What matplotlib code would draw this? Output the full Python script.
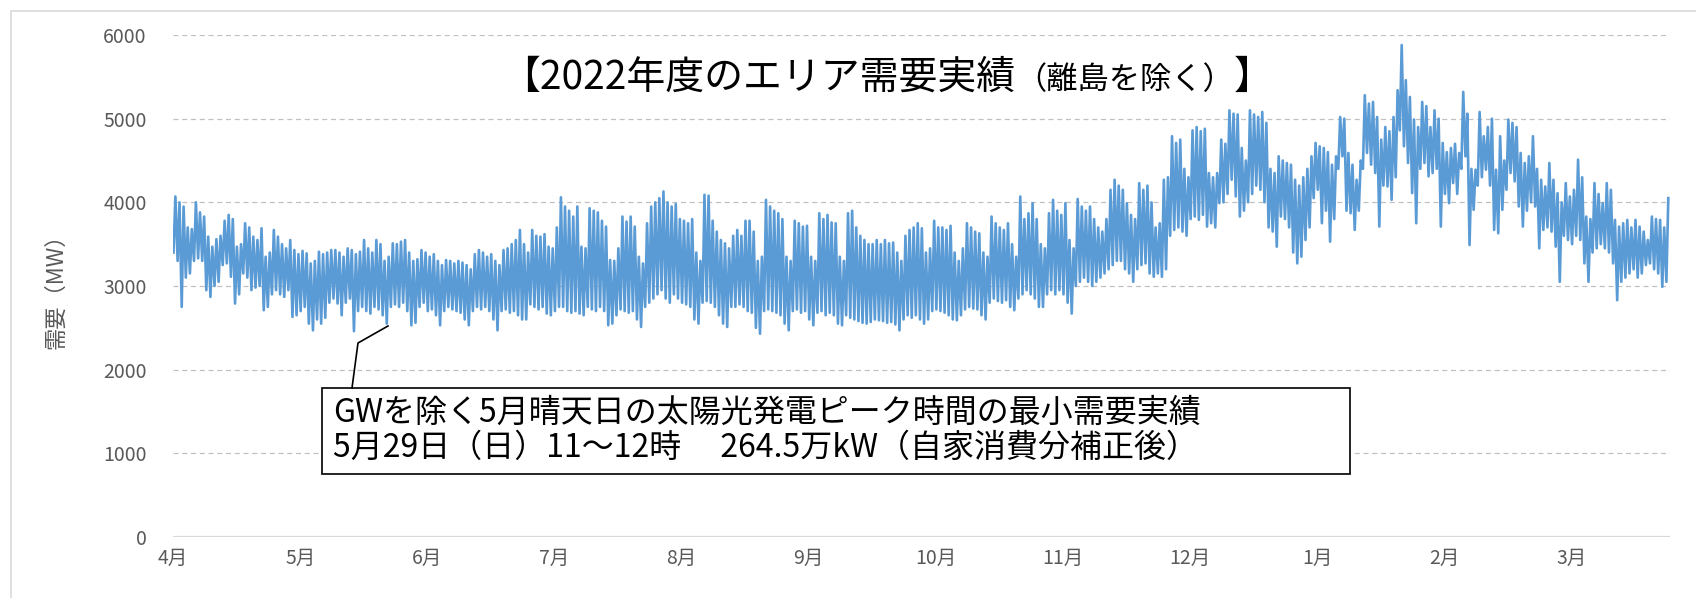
import numpy as np
import matplotlib
matplotlib.use("Agg")
import matplotlib.pyplot as plt
from matplotlib.lines import Line2D
from matplotlib.patches import Rectangle

# ---------------- data ----------------
months = ["4月", "5月", "6月", "7月", "8月", "9月", "10月", "11月", "12月", "1月", "2月", "3月"]
yticks = [0, 1000, 2000, 3000, 4000, 5000, 6000]

# daily minimum / maximum demand (MW), April 1 2022 .. March 31 2023
daily_min = [
    3400, 3300, 2750, 3100, 3150, 3300, 3330, 3300, 2950, 2870,
    3000, 3050, 3250, 3270, 3110, 2790, 2900, 3150, 3100, 2950,
    2980, 3000, 2710, 2750, 2900, 2950, 2900, 2870, 2950, 2630,
    2650, 2700, 2750, 2550, 2470, 2600, 2550, 2620, 2800, 2850,
    2790, 2650, 2800, 2850, 2460, 2700, 2750, 2700, 2670, 2750,
    2720, 2650, 2550, 2750, 2780, 2750, 2800, 2700, 2530, 2560,
    2750, 2800, 2700, 2720, 2650, 2530, 2700, 2750, 2720, 2700,
    2680, 2600, 2530, 2700, 2750, 2720, 2750, 2700, 2600, 2470,
    2700, 2720, 2680, 2700, 2650, 2600, 2600, 2780, 2750, 2720,
    2750, 2670, 2650, 2700, 2750, 2750, 2700, 2680, 2700, 2670,
    2650, 2750, 2720, 2700, 2750, 2700, 2530, 2550, 2650, 2720,
    2700, 2680, 2700, 2600, 2510, 2750, 2800, 2850, 2900, 2950,
    2850, 2800, 2900, 2850, 2800, 2780, 2750, 2600, 2550, 2800,
    2820, 2800, 2750, 2650, 2550, 2510, 2750, 2750, 2780, 2750,
    2700, 2680, 2500, 2430, 2700, 2720, 2700, 2680, 2650, 2550,
    2470, 2700, 2720, 2680, 2700, 2600, 2530, 2680, 2700, 2650,
    2680, 2650, 2550, 2530, 2650, 2620, 2600, 2580, 2560, 2550,
    2570, 2600, 2590, 2580, 2560, 2570, 2540, 2470, 2600, 2650,
    2620, 2650, 2600, 2550, 2600, 2700, 2720, 2700, 2680, 2650,
    2600, 2590, 2650, 2720, 2750, 2730, 2720, 2650, 2600, 2800,
    2850, 2820, 2800, 2830, 2750, 2710, 2850, 2900, 2950, 2900,
    2850, 2750, 2750, 2900, 2950, 2900, 2950, 2900, 2800, 2670,
    3000, 3050, 3100, 3050, 3000, 3050, 3100, 3150, 3200, 3250,
    3300, 3300, 3200, 3150, 3050, 3200, 3250, 3270, 3150, 3110,
    3150, 3110, 3200, 3600, 3670, 3700, 3650, 3600, 3800, 3830,
    3790, 3850, 3710, 3750, 3700, 3990, 4000, 4100, 4270, 4070,
    3830, 3900, 4000, 4100, 4200, 4150, 4000, 3700, 3650, 3470,
    3830, 3800, 3700, 3400, 3270, 3350, 3550, 3700, 4050, 4150,
    3750, 3900, 3530, 3800, 4400, 4550, 3900, 3870, 3670, 3900,
    4400, 4590, 4450, 4350, 3710, 4200, 4190, 4030, 4300, 4860,
    4670, 4470, 4110, 3750, 4400, 4470, 4310, 4350, 4400, 3710,
    4100, 3990, 4230, 4100, 4400, 4550, 3490, 3910, 4200, 4300,
    4390, 4200, 3670, 3630, 3910, 4150, 4350, 4250, 3950, 3710,
    3900, 4000, 3950, 3450, 3670, 3700, 3650, 3470, 3050, 3600,
    3550, 3500, 3600, 3550, 3270, 3050, 3400, 3450, 3500, 3450,
    3400, 3270, 2830, 3050, 3100, 3150, 3200, 3100, 3150, 3250,
    3270, 3200, 3150, 2990, 3050,
]
daily_max = [
    4070, 4000, 3950, 3700, 3680, 4000, 3880, 3830, 3590, 3470,
    3560, 3600, 3780, 3850, 3800, 3470, 3500, 3750, 3700, 3590,
    3550, 3690, 3350, 3400, 3670, 3590, 3500, 3450, 3550, 3430,
    3380, 3420, 3390, 3270, 3300, 3410, 3380, 3400, 3430, 3430,
    3400, 3350, 3450, 3430, 3380, 3410, 3550, 3450, 3400, 3550,
    3500, 3300, 3350, 3510, 3500, 3530, 3550, 3400, 3300, 3320,
    3430, 3400, 3350, 3380, 3300, 3250, 3310, 3300, 3270, 3300,
    3280, 3250, 3200, 3380, 3430, 3400, 3350, 3380, 3300, 3250,
    3430, 3450, 3500, 3550, 3670, 3500, 3400, 3670, 3600, 3590,
    3620, 3470, 3450, 3700, 4060, 3950, 3900, 3830, 3950, 3470,
    3450, 3930, 3900, 3880, 3780, 3710, 3310, 3300, 3450, 3830,
    3770, 3830, 3710, 3350, 3270, 3750, 3950, 4000, 4050, 4130,
    4000, 3950, 3980, 3800, 3780, 3750, 3800, 3400, 3300, 4090,
    4080, 3780, 3650, 3550, 3510, 3450, 3600, 3670, 3600, 3780,
    3780, 3650, 3300, 3350, 4030, 3950, 3900, 3870, 3800, 3350,
    3300, 3780, 3750, 3710, 3720, 3350, 3300, 3870, 3800, 3850,
    3760, 3750, 3350, 3300, 3870, 3900, 3700, 3600, 3550, 3500,
    3500, 3550, 3500, 3550, 3510, 3520, 3400, 3300, 3600, 3670,
    3700, 3750, 3690, 3400, 3450, 3780, 3700, 3700, 3670, 3720,
    3400, 3300, 3450, 3750, 3700, 3650, 3630, 3400, 3350, 3830,
    3750, 3700, 3670, 3750, 3500, 3350, 4070, 3800, 3870, 3990,
    3800, 3500, 3450, 3870, 4030, 3900, 3850, 3990, 3550, 3450,
    4040, 3950, 3900, 3950, 3800, 3700, 3650, 3800, 4150, 4270,
    4200, 4150, 3990, 3850, 3800, 4230, 4150, 4200, 4000, 3700,
    3750, 4270, 4300, 4790, 4710, 4750, 4400, 4300, 4860, 4900,
    4850, 4880, 4350, 4300, 4350, 4750, 4700, 5100, 5060, 5050,
    4650, 4500, 5100, 5050, 5020, 5080, 4950, 4400, 4350, 4550,
    4500, 4470, 4450, 4270, 4200, 4300, 4400, 4550, 4710, 4670,
    4650, 4600, 4450, 4550, 5020, 5000, 4590, 4450, 4270, 4500,
    5280, 5180, 5200, 5020, 4750, 4900, 4850, 5020, 5340, 5880,
    5460, 5260, 4990, 4900, 5200, 5150, 4900, 5100, 5000, 4710,
    4600, 4650, 4700, 4590, 5320, 5060, 4400, 4390, 5080, 4790,
    4900, 5000, 4390, 4790, 4500, 4990, 4950, 4900, 4590, 4470,
    4550, 4790, 4400, 4270, 4190, 4470, 4270, 4110, 4000, 4230,
    4070, 4150, 4510, 4300, 3830, 3800, 4230, 4100, 3990, 4230,
    4150, 3790, 3710, 3750, 3790, 3700, 3790, 3710, 3650, 3550,
    3830, 3800, 3790, 3700, 4050,
]

title_main = "【2022年度のエリア需要実績"
title_sub = "（離島を除く）"
title_end = "】"
note_lines = [
    "GWを除く5月晴天日の太陽光発電ピーク時間の最小需要実績",
    "5月29日（日）11～12時　 264.5万kW（自家消費分補正後）",
]
ylabel = "需要（MW）"

# ---------------- figure ----------------
plt.rcParams["font.family"] = ["Noto Sans CJK JP", "DejaVu Sans"]
W, H = 1696, 598
fig = plt.figure(figsize=(W / 100, H / 100), dpi=100)
fig.patch.set_facecolor("white")


def fx(px):
    return px / W


def fy(py):
    return 1 - py / H


ax = fig.add_axes([fx(173), fy(537), fx(1670) - fx(173), fy(35) - fy(537)])

dmin = np.asarray(daily_min, dtype=float)
dmax = np.asarray(daily_max, dtype=float)
n = len(dmin)
hours_per_day = 24
xs = np.empty(2 * n)
ys = np.empty(2 * n)
xs[0::2] = np.arange(n) * hours_per_day + 3
xs[1::2] = np.arange(n) * hours_per_day + 14
ys[0::2] = dmin
ys[1::2] = dmax

for v in yticks[1:]:
    ax.axhline(v, color="#C0C0C0", lw=0.9, ls=(0, (4, 3)), zorder=0)
ax.axhline(0, color="#D9D9D9", lw=1.6, zorder=1)

ax.plot(xs, ys, color="#5B9BD5", lw=1.9, zorder=3)

ax.set_xlim(0, n * hours_per_day)
ax.set_ylim(0, 6000)
for s in ax.spines.values():
    s.set_visible(False)

ax.set_yticks(yticks)
ax.set_yticklabels([str(v) for v in yticks])
ax.set_xticks(np.arange(len(months)) * 744)
ax.set_xticklabels(months)
ax.tick_params(axis="y", length=0, pad=19, labelsize=14, labelcolor="#595959")
ax.tick_params(axis="x", length=0, pad=8, labelsize=14, labelcolor="#595959")

fig.text(fx(56), fy(286), ylabel, rotation=90, ha="center", va="center",
         fontsize=16, color="#595959")

# ---------------- title (mixed sizes) ----------------
renderer = fig.canvas.get_renderer()
base_y = fy(89)
t1 = fig.text(0, base_y, title_main, fontsize=28, ha="left", va="baseline", color="black")
t2 = fig.text(0, base_y, title_sub, fontsize=22.5, ha="left", va="baseline", color="black")
t3 = fig.text(0, base_y, title_end, fontsize=28, ha="left", va="baseline", color="black")
w1 = t1.get_window_extent(renderer).width
w2 = t2.get_window_extent(renderer).width
w3 = t3.get_window_extent(renderer).width
start = 887 - (w1 + w2 + w3) / 2
t1.set_x(fx(start))
t2.set_x(fx(start + w1))
t3.set_x(fx(start + w1 + w2))

# ---------------- annotation ----------------
box = Rectangle((fx(322), fy(474)), fx(1350) - fx(322), fy(388) - fy(474),
                transform=fig.transFigure, facecolor="white", edgecolor="black",
                lw=1.2, zorder=5)
fig.patches.append(box)
fig.text(fx(333), fy(413), note_lines[0], fontsize=23, ha="left", va="center",
         color="black", zorder=6)
fig.text(fx(333), fy(448), note_lines[1], fontsize=23, ha="left", va="center",
         color="black", zorder=6)
fig.add_artist(Line2D([fx(352), fx(358), fx(388)], [fy(388), fy(343), fy(326)],
                      transform=fig.transFigure, color="black", lw=1.2, zorder=6))

# outer border
fig.add_artist(Line2D([fx(11), fx(11), fx(W)], [0, fy(11), fy(11)],
                      transform=fig.transFigure, color="#D9D9D9", lw=1.2))

fig.savefig("out.png", dpi=100, facecolor="white")
